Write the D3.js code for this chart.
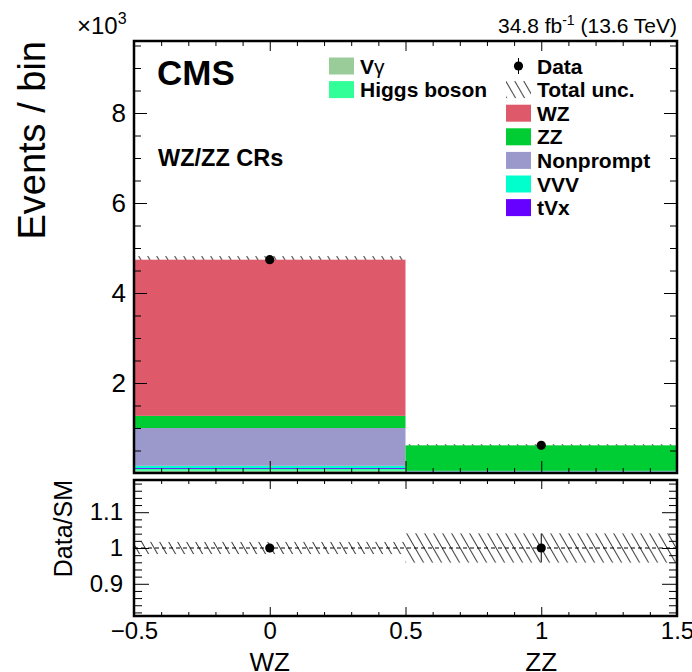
<!DOCTYPE html>
<html>
<head>
<meta charset="utf-8">
<script src="https://cdn.jsdelivr.net/npm/d3@7"></script>
<style>
  body { margin: 0; background: #fff; }
  svg { display: block; font-family: "Liberation Sans", Arial, Helvetica, sans-serif; }
  .tick line { stroke: #000; stroke-width: 1; }
</style>
</head>
<body>
<svg id="chart" width="692" height="672"></svg>
<script>
// ---------------- data (events in units of 10^3) ----------------
const categories = ["WZ", "ZZ"];
const binCenters = [0, 1];
const processes = ["Vγ", "Higgs boson", "tVx", "VVV", "Nonprompt", "ZZ", "WZ"];
const colors = ["#99cc99", "#33ff99", "#6600ff", "#00ffcc", "#9b98cc", "#00cc33", "#de5a6a"];
const valVgamma    = [0.05, 0.010];
const valHiggs     = [0.04, 0.020];
const valTVx       = [0.02, 0.003];
const valVVV       = [0.05, 0.005];
const valNonprompt = [0.84, 0.010];
const valZZ        = [0.27, 0.567];
const valWZ        = [3.47, 0.000];
const dataVals = [4.74, 0.615];
const dataErr  = [0.069, 0.025];
const relUnc   = [0.017, 0.041];
const ratioVals = [1.0, 1.0];
const ratioErr  = [0.012, 0.040];
const yMainTicks = [2, 4, 6, 8];
const yRatioTicks = [0.9, 1.0, 1.1];
const xTickLabels = ["\u22120.5", "0", "0.5", "1", "1.5"];

// ---------------- layout ----------------
const svg = d3.select("#chart");
const L = 134, R = 677, mainTop = 41, mainBot = 473, ratTop = 480, ratBot = 616;

const x = d3.scaleLinear().domain([-0.5, 1.5]).range([L, R]);
const y = d3.scaleLinear().domain([0, 9.6]).range([mainBot, mainTop]);
const yr = d3.scaleLinear().domain([0.81, 1.19]).range([ratBot, ratTop]);

// hatch pattern (lines going down-right, ~60 deg)
const defs = svg.append("defs");
const pw = 9, ph = 15.6;
const pat = defs.append("pattern").attr("id", "hatch").attr("patternUnits", "userSpaceOnUse")
  .attr("width", pw).attr("height", ph);
[-pw, 0, pw].forEach(o => {
  pat.append("line").attr("x1", o).attr("y1", 0).attr("x2", o + pw).attr("y2", ph)
    .attr("stroke", "#333").attr("stroke-width", 1);
});

defs.append("clipPath").attr("id", "clipMain").append("rect")
  .attr("x", L).attr("y", mainTop).attr("width", R - L).attr("height", mainBot - mainTop);
defs.append("clipPath").attr("id", "clipRat").append("rect")
  .attr("x", L).attr("y", ratTop).attr("width", R - L).attr("height", ratBot - ratTop);

// build table
const series = [valVgamma, valHiggs, valTVx, valVVV, valNonprompt, valZZ, valWZ];
const table = categories.map((c, i) => {
  const o = { cat: c, center: binCenters[i] };
  processes.forEach((p, j) => o[p] = series[j][i]);
  return o;
});
const stack = d3.stack().keys(processes)(table);
const totals = table.map(d => d3.sum(processes, p => d[p]));

const gMain = svg.append("g").attr("clip-path", "url(#clipMain)");

// uncertainty band (drawn first, stack covers inner part)
gMain.selectAll("rect.unc").data(table).join("rect")
  .attr("x", d => x(d.center - 0.5)).attr("width", d => x(d.center + 0.5) - x(d.center - 0.5))
  .attr("y", (d, i) => y(totals[i] * (1 + relUnc[i])))
  .attr("height", (d, i) => y(totals[i] * (1 - relUnc[i])) - y(totals[i] * (1 + relUnc[i])))
  .attr("fill", "url(#hatch)");

// stacked bars
stack.forEach((s, j) => {
  gMain.selectAll(null).data(s).join("rect")
    .attr("x", d => x(d.data.center - 0.5))
    .attr("width", d => x(d.data.center + 0.5) - x(d.data.center - 0.5))
    .attr("y", d => y(d[1]))
    .attr("height", d => Math.max(0, y(d[0]) - y(d[1])))
    .attr("fill", colors[j]);
});

// data points main
binCenters.forEach((c, i) => {
  gMain.append("line").attr("x1", x(c)).attr("x2", x(c))
    .attr("y1", y(dataVals[i] - dataErr[i])).attr("y2", y(dataVals[i] + dataErr[i]))
    .attr("stroke", "#000").attr("stroke-width", 1);
  gMain.append("circle").attr("cx", x(c)).attr("cy", y(dataVals[i])).attr("r", 4.6).attr("fill", "#000");
});

// ---------------- ratio ----------------
const gRat = svg.append("g").attr("clip-path", "url(#clipRat)");
gRat.selectAll("rect.runc").data(table).join("rect")
  .attr("x", d => x(d.center - 0.5)).attr("width", d => x(d.center + 0.5) - x(d.center - 0.5))
  .attr("y", (d, i) => yr(1 + relUnc[i]))
  .attr("height", (d, i) => yr(1 - relUnc[i]) - yr(1 + relUnc[i]))
  .attr("fill", "url(#hatch)");
gRat.append("line").attr("x1", L).attr("x2", R).attr("y1", yr(1)).attr("y2", yr(1))
  .attr("stroke", "#000").attr("stroke-width", 1).attr("stroke-dasharray", "4,3");
binCenters.forEach((c, i) => {
  gRat.append("line").attr("x1", x(c)).attr("x2", x(c))
    .attr("y1", yr(ratioVals[i] - ratioErr[i])).attr("y2", yr(ratioVals[i] + ratioErr[i]))
    .attr("stroke", "#000").attr("stroke-width", 1);
  gRat.append("circle").attr("cx", x(c)).attr("cy", yr(ratioVals[i])).attr("r", 4.6).attr("fill", "#000");
});

// ---------------- axes ----------------
function strip(g) { g.select(".domain").remove(); }
const xMajor = d3.range(-0.5, 1.51, 0.5).map(v => +v.toFixed(2));
const xMinor = d3.range(-0.4, 1.5, 0.1).map(v => +v.toFixed(2)).filter(v => !xMajor.some(m => Math.abs(m - v) < 1e-6));
const yMinor = d3.range(0.5, 9.6, 0.5).filter(v => !yMainTicks.includes(v));
const yrMinor = d3.range(0.82, 1.185, 0.02).map(v => +v.toFixed(2)).filter(v => !yRatioTicks.some(m => Math.abs(m - v) < 1e-6));

function axisSet(gen, scale, vals, size, fmt, transform, pad, fs) {
  const g = svg.append("g").attr("transform", transform)
    .call(gen(scale).tickValues(vals).tickSize(size).tickPadding(pad || 0).tickFormat(fmt || (() => "")))
    .call(strip);
  g.selectAll("text").attr("font-size", fs || 24).attr("fill", "#000").attr("font-family", "Liberation Sans, Arial, sans-serif");
  return g;
}
// main y
axisSet(d3.axisLeft, y, yMainTicks, -13, d => String(d), `translate(${L},0)`, 8, 26);
axisSet(d3.axisLeft, y, yMinor, -7, null, `translate(${L},0)`);
axisSet(d3.axisRight, y, yMainTicks, -13, null, `translate(${R},0)`);
axisSet(d3.axisRight, y, yMinor, -7, null, `translate(${R},0)`);
// main x
axisSet(d3.axisBottom, x, xMajor, -12, null, `translate(0,${mainBot})`);
axisSet(d3.axisBottom, x, xMinor, -5, null, `translate(0,${mainBot})`);
axisSet(d3.axisTop, x, xMajor, -10, null, `translate(0,${mainTop})`);
axisSet(d3.axisTop, x, xMinor, -5, null, `translate(0,${mainTop})`);
// ratio y
axisSet(d3.axisLeft, yr, yRatioTicks, -15, d => (Math.abs(d - 1) < 1e-6 ? "1" : String(d)), `translate(${L},0)`, 11, 24);
axisSet(d3.axisLeft, yr, yrMinor, -8, null, `translate(${L},0)`);
axisSet(d3.axisRight, yr, yRatioTicks, -15, null, `translate(${R},0)`);
axisSet(d3.axisRight, yr, yrMinor, -8, null, `translate(${R},0)`);
// ratio x
axisSet(d3.axisBottom, x, xMajor, -9, (d, i) => xTickLabels[i], `translate(0,${ratBot})`, 6, 24);
axisSet(d3.axisBottom, x, xMinor, -4, null, `translate(0,${ratBot})`);
axisSet(d3.axisTop, x, xMajor, -9, null, `translate(0,${ratTop})`);
axisSet(d3.axisTop, x, xMinor, -4, null, `translate(0,${ratTop})`);

// frames
svg.append("rect").attr("x", L).attr("y", mainTop).attr("width", R - L).attr("height", mainBot - mainTop)
  .attr("fill", "none").attr("stroke", "#000").attr("stroke-width", 2.5);
svg.append("rect").attr("x", L).attr("y", ratTop).attr("width", R - L).attr("height", ratBot - ratTop)
  .attr("fill", "none").attr("stroke", "#000").attr("stroke-width", 2.5);

// category labels
svg.selectAll("text.cat").data(categories).join("text")
  .attr("x", (d, i) => x(binCenters[i])).attr("y", 671).attr("text-anchor", "middle")
  .attr("font-size", 26).text(d => d);

// axis titles
svg.append("text").attr("transform", `translate(45,${mainTop}) rotate(-90)`).attr("text-anchor", "end")
  .attr("font-size", 38).text("Events / bin");
svg.append("text").attr("transform", `translate(72,${ratTop}) rotate(-90)`).attr("text-anchor", "end")
  .attr("font-size", 25).text("Data/SM");

// multiplier
const mult = svg.append("text").attr("x", 77).attr("y", 34).attr("font-size", 24);
mult.append("tspan").text("\u00d710");
mult.append("tspan").attr("font-size", 16).attr("dy", -10).text("3");

// lumi
const lumi = svg.append("text").attr("x", R).attr("y", 33).attr("text-anchor", "end").attr("font-size", 21);
lumi.append("tspan").text("34.8 fb");
lumi.append("tspan").attr("font-size", 14).attr("dy", -8).text("-1");
lumi.append("tspan").attr("dy", 8).text(" (13.6 TeV)");

// CMS labels
svg.append("text").attr("x", 157).attr("y", 85).attr("font-size", 35).attr("font-weight", "bold").text("CMS");
svg.append("text").attr("x", 158).attr("y", 166).attr("font-size", 23.5).attr("font-weight", "bold").text("WZ/ZZ CRs");

// ---------------- legend ----------------
const legLeft = [{ name: "Vγ", idx: 0 }, { name: "Higgs boson", idx: 1 }];
const legRight = [{ name: "Data", type: "data" }, { name: "Total unc.", type: "unc" },
  { name: "WZ", idx: 6 }, { name: "ZZ", idx: 5 }, { name: "Nonprompt", idx: 4 }, { name: "VVV", idx: 3 }, { name: "tVx", idx: 2 }];
const rowH = 23.6;
function legendRow(g, item, bx, tx, cy) {
  if (item.type === "data") {
    g.append("line").attr("x1", bx + 12.5).attr("x2", bx + 12.5).attr("y1", cy - 8).attr("y2", cy + 8).attr("stroke", "#000");
    g.append("circle").attr("cx", bx + 12.5).attr("cy", cy).attr("r", 4.6).attr("fill", "#000");
  } else if (item.type === "unc") {
    g.append("rect").attr("x", bx).attr("y", cy - 8.5).attr("width", 25).attr("height", 17).attr("fill", "url(#hatch)");
  } else {
    g.append("rect").attr("x", bx).attr("y", cy - 8.5).attr("width", 25).attr("height", 17).attr("fill", colors[item.idx]);
  }
  const t = g.append("text").attr("x", tx).attr("y", cy + 7.5).attr("font-size", 21).attr("font-weight", "bold");
  if (item.name === "Vγ") {
    t.append("tspan").text("V");
    t.append("tspan").attr("font-weight", "normal").text("γ");
  } else t.text(item.name);
}
const gLeg = svg.append("g");
legLeft.forEach((it, i) => legendRow(gLeg, it, 329, 360, 66 + i * rowH));
legRight.forEach((it, i) => legendRow(gLeg, it, 506, 537, 66 + i * rowH));
</script>
</body>
</html>
